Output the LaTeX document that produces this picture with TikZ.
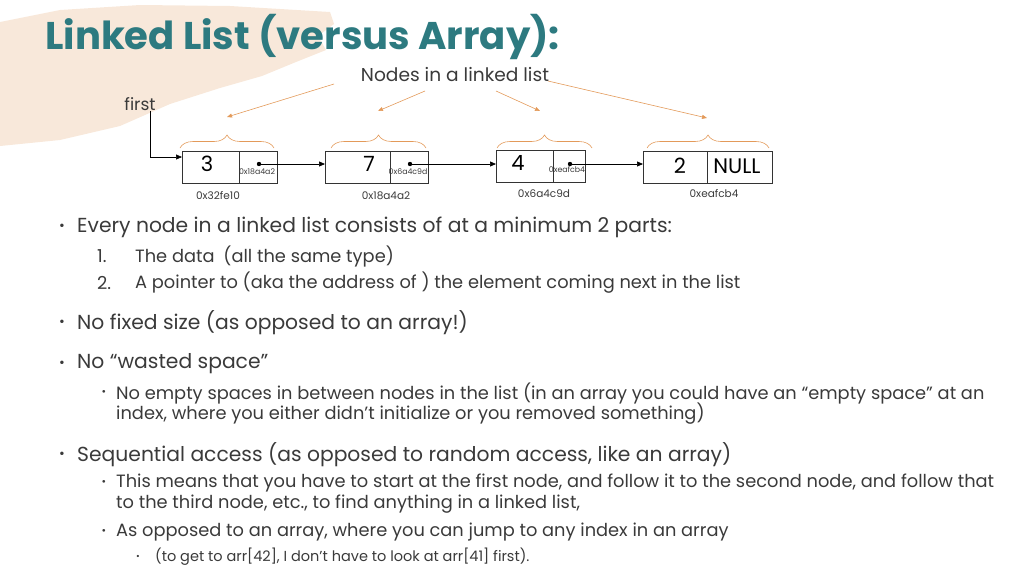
\documentclass[tikz,border=0pt]{standalone}
\usepackage{fontspec}
\setmainfont{Poppins}
\usetikzlibrary{arrows.meta,decorations.pathreplacing}
\definecolor{teal1}{HTML}{2D7A80}
\definecolor{brush}{HTML}{F8E8DA}
\definecolor{txt}{HTML}{3A3A3A}
\definecolor{org}{HTML}{E39A5A}
\begin{document}
\begin{tikzpicture}[x=1pt,y=-1pt,
  cell/.style={draw=black!80,line width=0.6pt,minimum height=32pt,inner sep=0pt},
  body/.style={anchor=west,text=txt,inner sep=0pt,font=\fontsize{20.3}{22}\selectfont},
  sub/.style={anchor=west,text=txt,inner sep=0pt,font=\fontsize{17.8}{20}\selectfont},
  subsub/.style={anchor=west,text=txt,inner sep=0pt,font=\fontsize{14.5}{16}\selectfont},
  small/.style={inner sep=0pt,font=\fontsize{7.8}{9}\selectfont,text=txt},
  addr/.style={inner sep=0pt,font=\fontsize{10.5}{12}\selectfont,text=txt},
  data/.style={inner sep=0pt,font=\fontsize{21}{23}\selectfont},
  oarr/.style={draw=org,line width=0.6pt,-{Triangle[length=5pt,width=4pt]}},
  link/.style={line width=0.7pt,-{Triangle[length=6pt,width=5pt]}}]
\useasboundingbox (0,0) rectangle (1024,576);
% brush stroke
\fill[brush] (0,22) -- (60,10) -- (140,5) -- (230,6) -- (330,12) -- (334,24) -- (318,36) -- (326,50) -- (296,62) -- (262,76) -- (220,88) -- (170,104) -- (120,126) -- (60,140) -- (0,146) -- cycle;
\node[anchor=west,inner sep=0pt,text=teal1,font=\fontsize{38.6}{44}\bfseries\selectfont] (title) at (45,37) {Linked List (versus Array):};
\node[inner sep=0pt,text=txt,font=\fontsize{18.6}{20}\selectfont] (lbl) at (455,75) {Nodes in a linked list};
\node[inner sep=0pt,text=txt,font=\fontsize{17}{19}\selectfont] (first) at (140,104) {first};
% boxes
\node[cell,anchor=north west,minimum width=57pt] (d1) at (182,151) {};
\node[cell,anchor=north west,minimum width=38pt] (p1) at (239,151) {};
\node[cell,anchor=north west,minimum width=65pt] (d2) at (325,151) {};
\node[cell,anchor=north west,minimum width=38pt] (p2) at (390,151) {};
\node[cell,anchor=north west,minimum width=57pt] (d3) at (496,150) {};
\node[cell,anchor=north west,minimum width=32pt] (p3) at (553,150) {};
\node[cell,anchor=north west,minimum width=64pt] (d4) at (643,151) {};
\node[cell,anchor=north west,minimum width=65pt] (p4) at (707,151) {};
\node[data] at (207,164) {3};
\node[data] at (369,164) {7};
\node[data] at (518,163) {4};
\node[data] at (680,166) {2};
\node[data] at (737,166) {NULL};
\fill (259,164) circle (2.2pt) coordinate (c1);
\fill (410,164) circle (2.2pt) coordinate (c2);
\fill (570,164) circle (2.2pt) coordinate (c3);
\node[small] at (257,172) {0x18a4a2};
\node[small] at (408,172) {0x6a4c9d};
\node[small] at (567,170) {0xeafcb4};
\draw[link] (c1) -- (d2.west|-c1);
\draw[link] (c2) -- (d3.west|-c2);
\draw[link] (c3) -- (d4.west|-c3);
\draw[line width=0.6pt,-{Triangle[length=6pt,width=5pt]}] (first.south-|150,0) |- (d1.west|-0,157);
\node[addr] at (218,196) {0x32fe10};
\node[addr] at (386,196) {0x18a4a2};
\node[addr] at (544,194) {0x6a4c9d};
\node[addr] at (714,194) {0xeafcb4};
% braces
\foreach \a/\b/\n in {180/274/1,331/426/2,497/592/3,647/769/4}{
  \draw[org,line width=0.6pt,decorate,decoration={brace,amplitude=13pt,aspect=0.5}] (\a,148) -- (\b,148);
}
\coordinate (t1) at (227,117); \coordinate (t2) at (378,111);
\coordinate (t3) at (540,111); \coordinate (t4) at (707,118);
\draw[oarr] (334,84) -- (t1);
\draw[oarr] (425,91) -- (t2);
\draw[oarr] (496,91) -- (t3);
\draw[oarr] (548,81) -- (t4);
% text
\node[text=txt,inner sep=0pt] at (62,227) {\fontsize{14}{14}\selectfont•};
\node[body] at (77,227) {Every node in a linked list consists of at a minimum 2 parts:};
\node[sub] at (97,256) {1.};
\node[sub] at (135,256) {The data\enspace(all the same type)};
\node[sub] at (97,283) {2.};
\node[sub] at (135,283) {A pointer to (aka the address of ) the element coming next in the list};
\node[text=txt,inner sep=0pt] at (62,323) {\fontsize{14}{14}\selectfont•};
\node[body] at (77,323) {No fixed size (as opposed to an array!)};
\node[text=txt,inner sep=0pt] at (62,364) {\fontsize{14}{14}\selectfont•};
\node[body] at (77,364) {No “wasted space”};
\node[text=txt,inner sep=0pt] at (104,393) {\fontsize{11}{11}\selectfont•};
\node[sub] at (116,393) {No empty spaces in between nodes in the list (in an array you could have an “empty space” at an};
\node[sub] at (116,414) {index, where you either didn’t initialize or you removed something)};
\node[text=txt,inner sep=0pt] at (62,455) {\fontsize{14}{14}\selectfont•};
\node[body] at (77,455) {Sequential access (as opposed to random access, like an array)};
\node[text=txt,inner sep=0pt] at (104,483) {\fontsize{11}{11}\selectfont•};
\node[sub] at (116,483) {This means that you have to start at the first node, and follow it to the second node, and follow that};
\node[sub] at (116,504) {to the third node, etc., to find anything in a linked list,};
\node[text=txt,inner sep=0pt] at (104,532) {\fontsize{11}{11}\selectfont•};
\node[sub] at (116,532) {As opposed to an array, where you can jump to any index in an array};
\node[text=txt,inner sep=0pt] at (138,557) {\fontsize{9}{9}\selectfont•};
\node[subsub] at (155,557) {(to get to arr[42], I don’t have to look at arr[41] first).};
\end{tikzpicture}
\end{document}
